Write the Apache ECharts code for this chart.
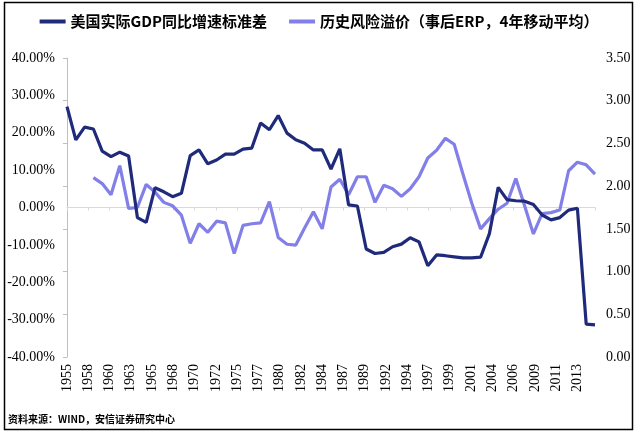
<!DOCTYPE html>
<html>
<head>
<meta charset="utf-8">
<script src="https://cdn.jsdelivr.net/npm/echarts@6/dist/echarts.min.js"></script>
<style>
  html, body { margin: 0; padding: 0; background: #fff; }
  #chart { width: 638px; height: 435px; }
</style>
</head>
<body>
<div id="chart"></div>
<script>
// ---- data ----
const years = [1955,1956,1957,1958,1959,1960,1961,1962,1963,1964,1965,1966,1967,1968,1969,1970,1971,1972,1973,1974,1975,1976,1977,1978,1979,1980,1981,1982,1983,1984,1985,1986,1987,1988,1989,1990,1991,1992,1993,1994,1995,1996,1997,1998,1999,2000,2001,2002,2003,2004,2005,2006,2007,2008,2009,2010,2011,2012,2013,2014,2015];

// 美国实际GDP同比增速标准差 (%), left axis
const gdpStd = [27.0,18.1,21.5,21.0,15.1,13.6,14.8,13.8,-2.7,-4.0,5.3,4.2,2.9,3.8,13.9,15.4,11.7,12.7,14.3,14.3,15.6,15.9,22.6,20.8,24.6,19.9,18.1,17.2,15.4,15.4,10.3,15.7,0.7,0.4,-11.1,-12.3,-12.0,-10.5,-9.8,-8.1,-9.2,-15.6,-12.7,-12.9,-13.2,-13.5,-13.5,-13.3,-7.0,5.4,2.1,1.8,1.7,0.8,-2.0,-3.3,-2.7,-0.7,-0.2,-31.2,-31.4];

// 历史风险溢价（事后ERP，4年移动平均）, right axis
const erp = [null,null,null,2.10,2.03,1.90,2.24,1.74,1.75,2.02,1.93,1.81,1.77,1.66,1.33,1.56,1.46,1.59,1.57,1.21,1.54,1.56,1.57,1.82,1.40,1.32,1.31,1.51,1.70,1.50,1.99,2.08,1.90,2.11,2.11,1.81,2.01,1.97,1.88,1.97,2.11,2.33,2.42,2.56,2.49,2.14,1.80,1.50,1.62,1.73,1.80,2.09,1.77,1.44,1.68,1.69,1.72,2.18,2.28,2.25,2.14];

const xTickLabels = ['1955','1958','1960','1963','1965','1968','1970','1972','1975','1977','1980','1982','1984','1987','1989','1992','1994','1997','1999','2001','2004','2006','2009','2011','2013'];

const seriesNames = ['美国实际GDP同比增速标准差', '历史风险溢价（事后ERP，4年移动平均）'];
const sourceText = '资料来源：WIND，安信证券研究中心';

// ---- chart ----
const baseYear = years[0];
const tickStep = 29 / 12;
const navy = '#1F2A7A';
const lavender = '#8280E8';
const serif = '"Liberation Serif", "Times New Roman", serif';

const gdpData = years.map((y, i) => [y - baseYear, gdpStd[i]]);
const erpData = years.map((y, i) => [y - baseYear, erp[i]]);

const chart = echarts.init(document.getElementById('chart'), null, { renderer: 'canvas' });
chart.setOption({
  animation: false,
  backgroundColor: '#fff',
  legend: {
    top: 9,
    left: 'center',
    itemWidth: 26,
    itemHeight: 4,
    itemGap: 22,
    textStyle: { fontFamily: '"Noto Sans CJK SC", sans-serif', fontSize: 15, color: '#000', fontWeight: 'bold' },
    data: [
      { name: seriesNames[0], icon: 'rect', itemStyle: { color: navy } },
      { name: seriesNames[1], icon: 'rect', itemStyle: { color: lavender } }
    ]
  },
  grid: { left: 67, right: 43, top: 58, bottom: 78, containLabel: false },
  xAxis: [
    {
      type: 'value',
      min: 0,
      max: years[years.length - 1] - baseYear,
      interval: tickStep,
      position: 'bottom',
      axisLine: { show: false, onZero: false },
      axisTick: { show: false },
      splitLine: { show: false },
      axisLabel: {
        rotate: 90,
        margin: 7,
        fontFamily: serif,
        fontSize: 14,
        color: '#000',
        showMaxLabel: false,
        formatter: v => xTickLabels[Math.round(v / tickStep)] || ''
      }
    },
    {
      type: 'value',
      min: 0,
      max: years[years.length - 1] - baseYear,
      interval: tickStep,
      position: 'bottom',
      axisLine: { show: true, onZero: true, onZeroAxisIndex: 0, lineStyle: { color: '#D9D9D9', width: 1 } },
      axisTick: { show: true, length: 3, lineStyle: { color: '#D9D9D9' } },
      splitLine: { show: false },
      axisLabel: { show: false }
    }
  ],
  yAxis: [
    {
      type: 'value',
      min: -40,
      max: 40,
      interval: 10,
      axisLine: { show: false },
      axisTick: { show: false },
      splitLine: { show: false },
      axisLabel: {
        margin: 12,
        fontFamily: serif,
        fontSize: 14,
        color: '#000',
        formatter: v => v.toFixed(2) + '%'
      }
    },
    {
      type: 'value',
      min: 0,
      max: 3.5,
      interval: 0.5,
      position: 'right',
      axisLine: { show: true, lineStyle: { color: '#BFBFBF', width: 1 } },
      axisTick: { show: true, inside: true, length: 4, lineStyle: { color: '#BFBFBF' } },
      splitLine: { show: false },
      axisLabel: {
        margin: 11,
        fontFamily: serif,
        fontSize: 14,
        color: '#000',
        formatter: v => v.toFixed(2)
      }
    }
  ],
  series: [
    {
      name: seriesNames[0],
      type: 'line',
      xAxisIndex: 0,
      yAxisIndex: 0,
      data: gdpData,
      symbol: 'none',
      lineStyle: { color: navy, width: 3.2 },
      itemStyle: { color: navy },
      z: 3
    },
    {
      name: seriesNames[1],
      type: 'line',
      xAxisIndex: 0,
      yAxisIndex: 1,
      data: erpData,
      symbol: 'none',
      connectNulls: false,
      lineStyle: { color: lavender, width: 3.2 },
      itemStyle: { color: lavender },
      z: 2
    }
  ],
  graphic: [
    {
      type: 'rect',
      shape: { x: 4.5, y: 2.5, width: 628, height: 427 },
      style: { fill: 'none', stroke: '#000', lineWidth: 1.5 },
      silent: true
    },
    {
      type: 'text',
      left: 8,
      top: 414,
      style: {
        text: sourceText,
        font: 'bold 10px "Noto Sans CJK SC", sans-serif',
        fill: '#000'
      }
    }
  ]
});
</script>
</body>
</html>
